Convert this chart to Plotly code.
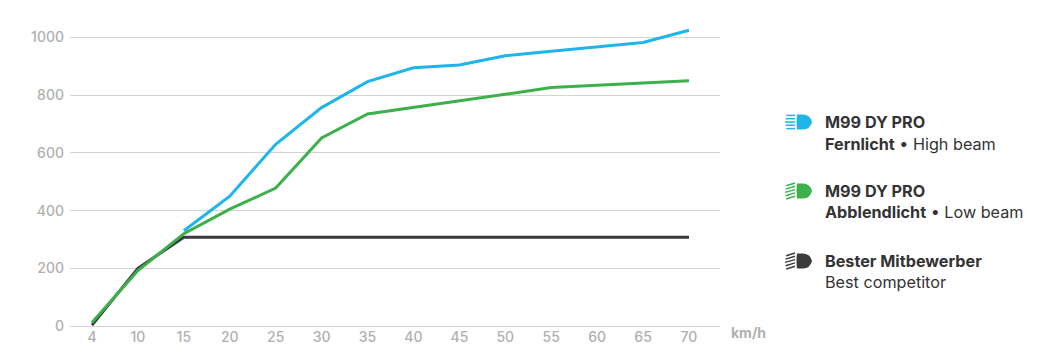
import plotly.graph_objects as go

speeds = ["4", "10", "15", "20", "25", "30", "35", "40", "45", "50", "55", "60", "65", "70"]
high_beam = [None, None, 330, 450, 630, 757, 847, 895, 905, 937, 952, 968, 983, 1025]
low_beam = [12, 192, 320, 405, 478, 652, 735, 757, 780, 803, 827, 835, 842, 850]
competitor = [3, 200, 308, 308, 308, 308, 308, 308, 308, 308, 308, 308, 308, 308]
y_ticks = [0, 200, 400, 600, 800, 1000]

BLUE, GREEN, DARK = "#1db5ea", "#3cb04a", "#3a3b3d"
PAGE = 8  # page margin around the figure
W, H = 1041 - 2 * PAGE, 360
L, R, T, B = 70, 720, 20, 326
FONT = "Inter"

fig = go.Figure()
for vals, col in [(high_beam, BLUE), (competitor, DARK), (low_beam, GREEN)]:
    fig.add_trace(go.Scatter(x=speeds, y=vals, mode="lines", line=dict(color=col, width=3),
                             showlegend=False, hoverinfo="skip"))

def px(x): return (x - L) / (R - L)
def py(y): return (B - y) / (B - T)

shapes, annotations = [], []

def icon(cx, cy, col, tilt):
    x0, x1 = cx + 1, cx + 16
    t, b = cy - 7.5, cy + 7.5
    path = (f"M {px(x0)} {py(t)} L {px(x0 + 6)} {py(t)} "
            f"Q {px(x1 - 2)} {py(t)} {px(x1)} {py(cy)} "
            f"Q {px(x1 - 2)} {py(b)} {px(x0 + 6)} {py(b)} L {px(x0)} {py(b)} "
            f"Q {px(x0 - 1)} {py(cy)} {px(x0)} {py(t)} Z")
    shapes.append(dict(type="path", xref="paper", yref="paper", path=path,
                       fillcolor=col, line=dict(width=0)))
    for i in range(5):
        yy = cy - 6.6 + i * 3.3
        inset = abs(i - 2) * 0.6
        shapes.append(dict(type="line", xref="paper", yref="paper",
                           x0=px(cx - 11 + inset), x1=px(cx - 1),
                           y0=py(yy + tilt), y1=py(yy - tilt),
                           line=dict(color=col, width=1.5)))

def text(x, y, s, size=16.2):
    annotations.append(dict(x=px(x), y=py(y), xref="paper", yref="paper", text=s, showarrow=False,
                            xanchor="left", yanchor="middle", align="left",
                            font=dict(family=FONT, size=size, color="#333335")))

icon(796, 122, BLUE, 0)
text(823, 122, "<b>M99 DY PRO</b>")
text(823, 144, "<b>Fernlicht</b> • High beam")
icon(796, 191, GREEN, 1.4)
text(823, 191, "<b>M99 DY PRO</b>")
text(823, 212, "<b>Abblendlicht</b> • Low beam")
icon(796, 261, DARK, 1.4)
text(823, 261, "<b>Bester Mitbewerber</b>")
text(823, 282, "Best competitor")

annotations.append(dict(x=px(729), y=py(332), xref="paper", yref="paper", text="<b>km/h</b>", showarrow=False,
                        xanchor="left", yanchor="middle",
                        font=dict(family=FONT, size=14, color="#b0b0b0")))

fig.update_layout(
    width=W, height=H, autosize=False,
    margin=dict(l=L - PAGE, r=W + PAGE - R, t=T - PAGE, b=H + PAGE - B),
    paper_bgcolor="white", plot_bgcolor="white",
    shapes=shapes, annotations=annotations,
    xaxis=dict(type="category", categoryorder="array", categoryarray=speeds,
               range=[-0.479, 13.675], showgrid=False, zeroline=False, ticks="",
               showline=False, ticklabelstandoff=1,
               tickfont=dict(family=FONT, size=14, color="#b0b0b0", weight=500)),
    yaxis=dict(range=[0, (B - T) / 0.2885], tickvals=y_ticks, gridcolor="#d4d4d4", gridwidth=1,
               zeroline=True, zerolinecolor="#d4d4d4", zerolinewidth=1, ticks="", showline=False,
               ticklabelstandoff=5,
               tickfont=dict(family=FONT, size=14, color="#b0b0b0", weight=500)),
)
fig.write_html("out.html")
